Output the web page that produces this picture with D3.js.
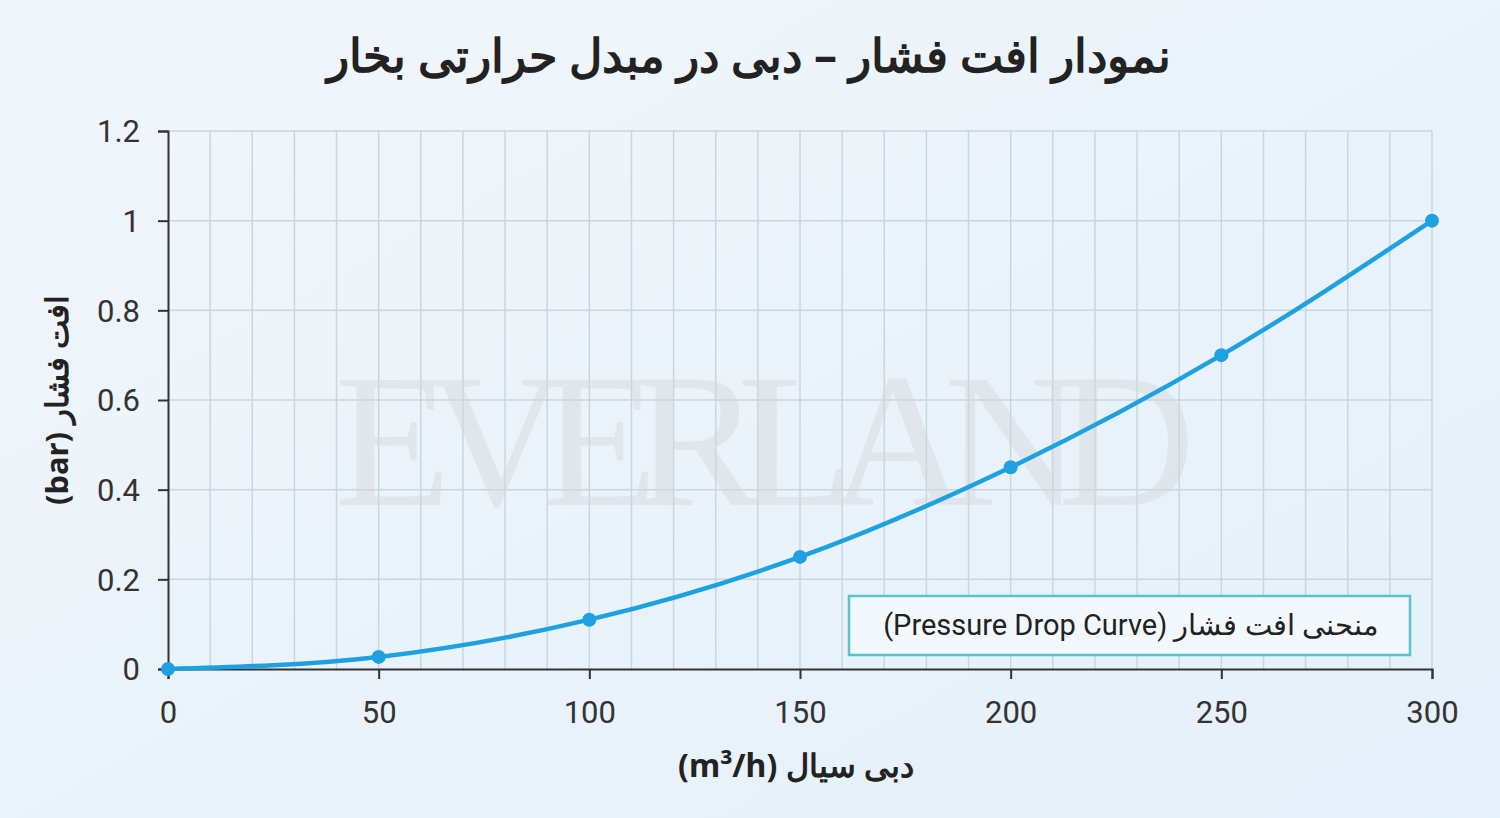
<!DOCTYPE html>
<html><head><meta charset="utf-8">
<script src="https://cdn.jsdelivr.net/npm/d3@7"></script>
<style>body{margin:0;background:#eaf3fb;}svg{display:block;}</style>
</head><body>
<svg id="c" width="1500" height="818"></svg>
<script>
const flows = [0, 50, 100, 150, 200, 250, 300];
const pressureDrop = [0, 0.027, 0.11, 0.25, 0.45, 0.70, 1.0];
const yTicks = [0, 0.2, 0.4, 0.6, 0.8, 1, 1.2];
const xTicks = [0, 50, 100, 150, 200, 250, 300];
const title = "نمودار افت فشار – دبی در مبدل حرارتی بخار";
const xLabel = "دبی سیال (m³/h)";
const yLabel = "افت فشار (bar)";
const legendLabel = "(Pressure Drop Curve) منحنی افت فشار";

const svg = d3.select("#c");
const defs = svg.append("defs");
const g = defs.append("linearGradient").attr("id","bg").attr("x1",0).attr("y1",0).attr("x2",1).attr("y2",1);
g.append("stop").attr("offset","0%").attr("stop-color","#f1f6fb");
g.append("stop").attr("offset","100%").attr("stop-color","#e4f0fa");
svg.append("rect").attr("width",1500).attr("height",818).attr("fill","url(#bg)");

const x = d3.scaleLinear().domain([0,300]).range([168,1432]);
const y = d3.scaleLinear().domain([0,1.2]).range([669,131]);

svg.append("g").selectAll("line").data(d3.range(10,301,10)).join("line")
  .attr("x1",d=>x(d)).attr("x2",d=>x(d)).attr("y1",y(1.2)).attr("y2",y(0))
  .attr("stroke","#c9d6df").attr("stroke-width",1.5);
svg.append("g").selectAll("line").data(yTicks.slice(1)).join("line")
  .attr("x1",x(0)).attr("x2",x(300)).attr("y1",d=>y(d)).attr("y2",d=>y(d))
  .attr("stroke","#c9d6df").attr("stroke-width",1.5);

svg.append("text").attr("x",765).attr("y",505).attr("text-anchor","middle")
  .attr("font-family","Liberation Serif").attr("font-size",190).attr("fill","#d6d8da").attr("opacity",0.45)
  .attr("textLength",860).text("EVERLAND");

const ax = svg.append("g").attr("transform",`translate(0,${y(0)})`)
  .call(d3.axisBottom(x).tickValues(xTicks).tickSize(10).tickPadding(22));
const ay = svg.append("g").attr("transform",`translate(${x(0)},0)`)
  .call(d3.axisLeft(y).tickValues(yTicks).tickSize(10).tickPadding(18).tickFormat(d3.format("~g")));
[ax,ay].forEach(a=>{
  a.selectAll("path,line").attr("stroke","#333").attr("stroke-width",2);
  a.selectAll("text").attr("font-family","Roboto").attr("font-size",31).attr("fill","#333");
});
ay.selectAll("text").attr("dy","0.35em");

svg.append("path").datum(flows.map((f,i)=>[f,pressureDrop[i]]))
  .attr("d",d3.line().x(d=>x(d[0])).y(d=>y(d[1])).curve(d3.curveMonotoneX))
  .attr("fill","none").attr("stroke","#1ea1e0").attr("stroke-width",4.5);
svg.append("g").selectAll("circle").data(flows).join("circle")
  .attr("cx",d=>x(d)).attr("cy",(d,i)=>y(pressureDrop[i])).attr("r",7).attr("fill","#1ea1e0");

svg.append("rect").attr("x",849).attr("y",596).attr("width",561).attr("height",59)
  .attr("fill","#f3f8fc").attr("stroke","#5cc3c9").attr("stroke-width",2.5);
svg.append("text").attr("x",1131).attr("y",625).attr("dy","0.35em").attr("text-anchor","middle")
  .attr("font-family","Roboto, 'Noto Sans'").attr("font-size",29).attr("fill","#222").attr("direction","ltr").text(legendLabel);

svg.append("text").attr("x",749).attr("y",56).attr("dy","0.35em").attr("text-anchor","middle")
  .attr("font-family","'Noto Sans'").attr("font-weight","bold").attr("font-size",46).attr("fill","#222").attr("direction","rtl").text(title);
svg.append("text").attr("x",796).attr("y",766).attr("dy","0.35em").attr("text-anchor","middle")
  .attr("font-family","'Noto Sans'").attr("font-weight","bold").attr("font-size",32).attr("fill","#222").attr("direction","rtl").text(xLabel);
svg.append("text").attr("transform","translate(57,400) rotate(-90)").attr("dy","0.35em").attr("text-anchor","middle")
  .attr("font-family","'Noto Sans'").attr("font-weight","bold").attr("font-size",31).attr("fill","#222").attr("direction","rtl").text(yLabel);
</script>
</body></html>
